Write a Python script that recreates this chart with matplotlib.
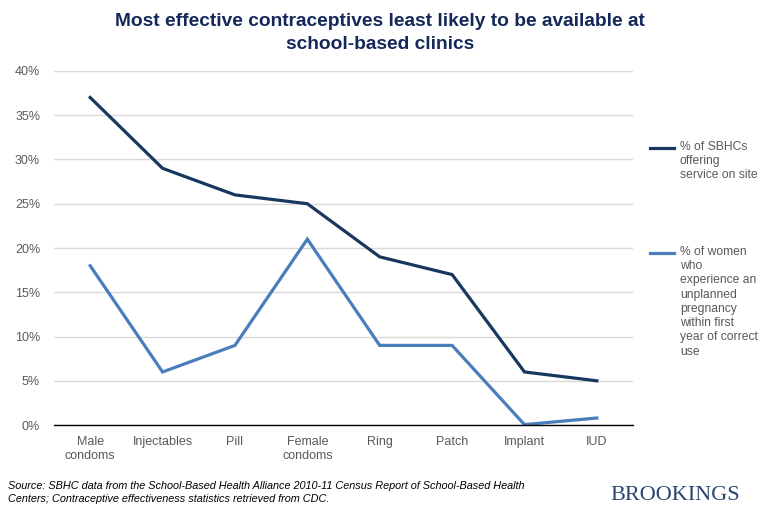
import numpy as np
import matplotlib.pyplot as plt
from matplotlib.lines import Line2D

# categories and the two series (percent)
methods = ["Male\ncondoms", "Injectables", "Pill", "Female\ncondoms",
           "Ring", "Patch", "Implant", "IUD"]
sbhc_offering = [37, 29, 26, 25, 19, 17, 6, 5]
unplanned_pregnancy = [18, 6, 9, 21, 9, 9, 0.05, 0.8]
yticks = [0, 5, 10, 15, 20, 25, 30, 35, 40]

dark = "#17375E"
light = "#4A7EBB"
grey = "#595959"

plt.rcParams['font.family'] = ['Liberation Sans', 'DejaVu Sans']

fig = plt.figure(figsize=(7.68, 5.14), dpi=100)
ax = fig.add_axes([0.0703, 0.173, 0.754, 0.689])

x = np.arange(len(methods))
ax.plot(x, sbhc_offering, color=dark, lw=2.3, solid_joinstyle='miter')
ax.plot(x, unplanned_pregnancy, color=light, lw=2.3, solid_joinstyle='miter')

ax.set_xlim(-0.5, len(methods) - 0.5)
ax.set_ylim(0, 40)
ax.set_yticks(yticks)
ax.set_yticklabels([f"{v}%" for v in yticks])
ax.set_xticks(x)
ax.set_xticklabels(methods)
ax.yaxis.grid(True, color="#D9D9D9", lw=1)
ax.set_axisbelow(True)
for s in ["top", "right", "left"]:
    ax.spines[s].set_visible(False)
ax.spines["bottom"].set_color("#000000")
ax.spines["bottom"].set_linewidth(1)
ax.tick_params(axis='both', length=0, colors=grey, labelsize=9)
ax.tick_params(axis='y', pad=10)
ax.tick_params(axis='x', pad=8)

fig.text(0.495, 0.975, "Most effective contraceptives least likely to be available at\nschool-based clinics",
         ha='center', va='top', fontsize=13.8, fontweight='bold', color="#14295A", linespacing=1.45)

# legend drawn by hand so the handle sits at the first text line
leg_items = [(dark, "% of SBHCs\noffering\nservice on site", 1 - 148 / 514),
             (light, "% of women\nwho\nexperience an\nunplanned\npregnancy\nwithin first\nyear of correct\nuse", 1 - 253 / 514)]
for col, lab, yy in leg_items:
    fig.add_artist(Line2D([650 / 768, 674 / 768], [yy, yy], color=col, lw=2.3))
    fig.text(680 / 768, yy + 0.014, lab, ha='left', va='top', fontsize=8.7, color=grey, linespacing=1.25)

fig.text(0.01, 0.064, "Source: SBHC data from the School-Based Health Alliance 2010-11 Census Report of School-Based Health\n"
         "Centers; Contraceptive effectiveness statistics retrieved from CDC.",
         ha='left', va='top', fontsize=7.8, style='italic', color="#000000", linespacing=1.3)
fig.text(0.964, 0.018, "BROOKINGS", ha='right', va='bottom', fontsize=16,
         family=['Liberation Serif', 'DejaVu Serif'], color="#2B4470")

fig.savefig("out.png", dpi=100)
